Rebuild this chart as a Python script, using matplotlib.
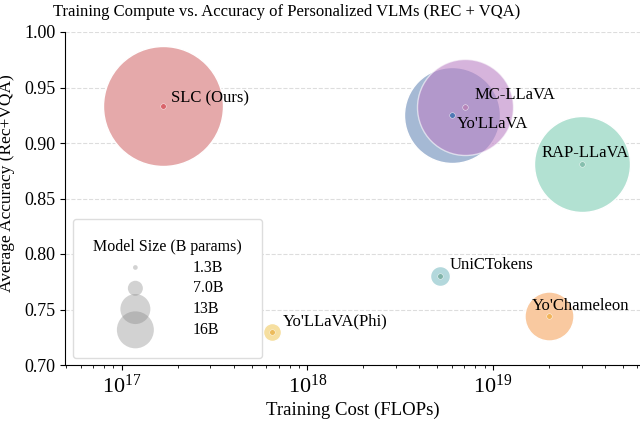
import numpy as np
import matplotlib
matplotlib.use('Agg')
import matplotlib.pyplot as plt

plt.rcParams['font.family'] = ['Liberation Serif', 'DejaVu Serif']
plt.rcParams['mathtext.fontset'] = 'stix'

# data
models = ['SLC (Ours)', "Yo'LLaVA", 'MC-LLaVA', 'RAP-LLaVA', 'UniCTokens', "Yo'Chameleon", "Yo'LLaVA(Phi)"]
flops = [1.66e17, 6.0e18, 7.06e18, 3.0e19, 5.2e18, 2.0e19, 6.4e17]
acc = [0.933, 0.925, 0.932, 0.881, 0.780, 0.744, 0.730]
bubble = [7465, 4778, 4778, 4778, 207, 1245, 168]

legend_labels = ['1.3B', '7.0B', '13B', '16B']
legend_sizes = [11.5, 117, 467, 709]

fill_colors = ['#e5a9aa', '#a5b9d4', '#bc82c5', '#b2e1d2', '#b3d8dc', '#f9c9a0', '#f6dfa0']
fill_alpha = [1, 1, 0.6, 1, 1, 1, 1]
dot_colors = ['#d9646b', '#4f78b4', '#b784b9', '#86bfae', '#80b3a9', '#f2b45a', '#ecbb5b']
# label offsets in pixels (dx, dy) and alignment
offsets = [(8, 8), (5, -9), (10, 12), (4, 11), (9, 11), (-17, 10), (11, 10)]
aligns = ['left', 'left', 'left', 'center', 'left', 'left', 'left']

fig = plt.figure(figsize=(6.4, 4.21), dpi=100)
ax = fig.add_axes([65/640, 1-365/421, 575/640, 333/421])

for i in range(len(models)):
    ax.scatter(flops[i], acc[i], s=bubble[i], color=fill_colors[i], alpha=fill_alpha[i],
               edgecolors='white', linewidths=1, zorder=2)
for i in range(len(models)):
    ax.scatter(flops[i], acc[i], s=16, color=dot_colors[i], edgecolors='white',
               linewidths=0.3, zorder=3)
    ax.annotate(models[i], (flops[i], acc[i]), xytext=offsets[i], textcoords='offset pixels',
                ha=aligns[i], va='center', fontsize=12, zorder=4)

ax.set_xscale('log')
ax.set_xlim(4.93e16, 6.2e19)
ax.set_ylim(0.70, 1.00)
ax.set_yticks(np.arange(0.70, 1.001, 0.05))
ax.yaxis.set_major_formatter(matplotlib.ticker.FormatStrFormatter('%.2f'))
ax.grid(axis='y', linestyle='--', color='#dddddd', linewidth=0.8, zorder=0)
ax.set_axisbelow(True)
ax.spines['top'].set_visible(False)
ax.spines['right'].set_visible(False)
ax.tick_params(axis='y', labelsize=13)
ax.tick_params(axis='x', labelsize=16)
ax.set_xlabel('Training Cost (FLOPs)', fontsize=13.5, labelpad=3)
ax.set_ylabel('Average Accuracy (Rec+VQA)', fontsize=12.5)
ax.yaxis.set_label_coords(-0.087, 0.547)
fig.text(287/640, 1-12/421, 'Training Compute vs. Accuracy of Personalized VLMs (REC + VQA)',
         ha='center', va='center', fontsize=12)

handles = [ax.scatter([], [], s=s, color='gray', alpha=0.35, edgecolors='none') for s in legend_sizes]
leg = ax.legend(handles, legend_labels, title='Model Size (B params)', loc='lower left',
                bbox_to_anchor=(0.014, 0.021), borderaxespad=0, fontsize=11.5, title_fontsize=11.5,
                handlelength=3, handletextpad=2.1, borderpad=1.25, labelspacing=0.3,
                frameon=True, framealpha=1, edgecolor='#dddddd')

fig.savefig('out.png', dpi=100)
